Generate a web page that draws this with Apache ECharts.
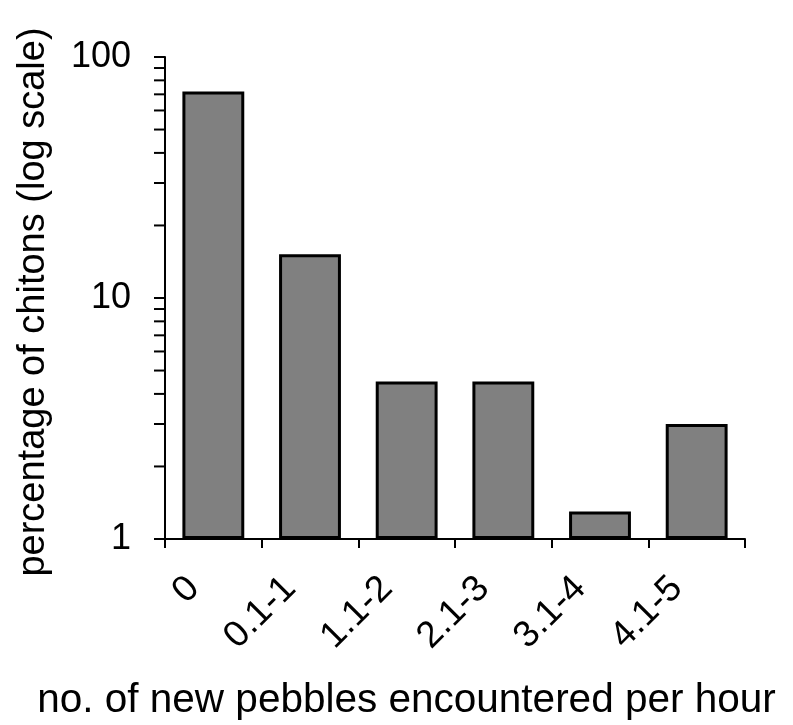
<!DOCTYPE html>
<html><head><meta charset="utf-8">
<script src="https://cdn.jsdelivr.net/npm/echarts@6/dist/echarts.min.js"></script>
<style>html,body{margin:0;padding:0;background:#fff}#c{width:793px;height:725px}</style>
</head><body><div id="c"></div>
<script>
const categories = ['0', '0.1-1', '1.1-2', '2.1-3', '3.1-4', '4.1-5'];
const percentages = [72, 15.2, 4.5, 4.5, 1.3, 3.0];
const minorTickValues = [2,3,4,5,6,7,8,9,20,30,40,50,60,70,80,90];
const yTitle = 'percentage of chitons (log scale)';
const xTitle = 'no. of new pebbles encountered per hour';

const FONT = 'Liberation Sans, Arial, sans-serif';
const chart = echarts.init(document.getElementById('c'));
chart.setOption({
  backgroundColor: '#fff',
  animation: false,
  grid: { left: 165, right: 48, top: 57, bottom: 186, containLabel: false, outerBoundsMode: 'none' },
  xAxis: {
    type: 'category', data: categories,
    axisLine: { lineStyle: { color: '#000', width: 2 } },
    axisTick: { show: true, length: 9, alignWithLabel: false, lineStyle: { color: '#000', width: 2 } },
    axisLabel: { rotate: 45, margin: 24, fontSize: 37, color: '#000', fontFamily: FONT, padding: [0, 28, 0, 0] },
    name: xTitle, nameLocation: 'middle', nameGap: 141,
    nameTextStyle: { fontSize: 40.5, color: '#000', fontFamily: FONT, padding: [0, 0, 0, -97] }
  },
  yAxis: {
    type: 'log', logBase: 10, min: 1, max: 100,
    splitLine: { show: false },
    axisLine: { show: true, onZero: false, lineStyle: { color: '#000', width: 2 } },
    axisTick: { show: true, length: 11, lineStyle: { color: '#000', width: 2 } },
    axisLabel: { margin: 34, fontSize: 36, color: '#000', fontFamily: FONT },
    name: yTitle, nameLocation: 'middle', nameGap: 112, nameRotate: 90,
    nameTextStyle: { fontSize: 38, color: '#000', fontFamily: FONT, padding: [0, 0, 0, -8] }
  },
  series: [
    {
      type: 'bar', data: percentages, barWidth: '64%',
      itemStyle: { color: '#808080', borderColor: '#000', borderWidth: 3 }
    },
    {
      type: 'custom', data: minorTickValues, silent: true, z: 5,
      renderItem: function (params, api) {
        const p = api.coord([0, api.value(0)]);
        const x0 = params.coordSys.x;
        return { type: 'line', shape: { x1: x0 - 11, y1: p[1], x2: x0, y2: p[1] },
                 style: { stroke: '#000', lineWidth: 2 } };
      },
      encode: { y: 0 }
    }
  ]
});
</script></body></html>
